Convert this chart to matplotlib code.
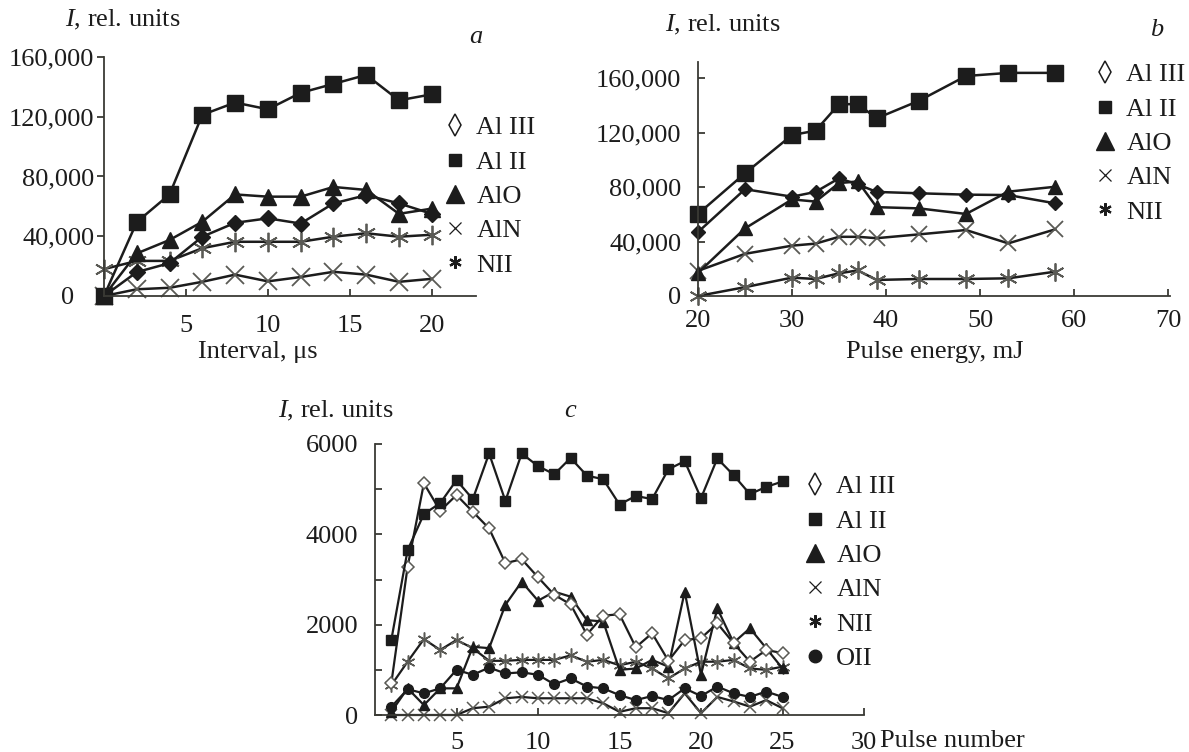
import matplotlib
matplotlib.use("Agg")
import matplotlib.pyplot as plt
from matplotlib.lines import Line2D

plt.rcParams['font.family'] = ['Liberation Serif', 'DejaVu Serif']
plt.rcParams['mathtext.fontset'] = 'custom'
plt.rcParams['mathtext.rm'] = 'Liberation Serif'
plt.rcParams['mathtext.it'] = 'Liberation Serif:italic'

# ---- panel a : interval between pulses
interval = [0, 2, 4, 6, 8, 10, 12, 14, 16, 18, 20]
a_al3 = [0, 16000, 22000, 39700, 49000, 52000, 48500, 62000, 67500, 62000, 55000]
a_al2 = [0, 49500, 68000, 121300, 129500, 125000, 136000, 142000, 148000, 131000, 135000]
a_alo = [0, 28500, 37500, 49700, 68000, 66500, 66500, 73000, 71000, 55000, 58500]
a_aln = [0, 4500, 5500, 9500, 14300, 9800, 12700, 16200, 14300, 9500, 11500]
a_nii = [18000, 23500, 23500, 32000, 36300, 36300, 36300, 39700, 42000, 39700, 41000]

# ---- panel b : pulse energy
energy = [20, 25, 30, 32.5, 35, 37, 39, 43.5, 48.5, 53, 58]
b_al3 = [47000, 78500, 73000, 76500, 86500, 82000, 76500, 75500, 74500, 74200, 68100]
b_al2 = [60300, 90200, 118300, 121500, 141000, 141000, 130600, 143500, 161700, 164000, 164000]
b_alo = [17000, 49700, 71000, 69400, 83000, 84200, 65300, 64400, 60300, 76700, 80300]
b_aln = [18500, 31000, 37000, 38500, 43500, 43500, 42500, 45300, 48500, 38700, 49000]
b_nii = [0, 6500, 13500, 12500, 16700, 18800, 11800, 12500, 12500, 13000, 17900]

# ---- panel c : pulse number
pulse = list(range(1, 26))
c_al3 = [700, 3280, 5130, 4520, 4870, 4500, 4130, 3360, 3450, 3050, 2660, 2450, 1780, 2200, 2230,
         1500, 1810, 1200, 1660, 1700, 2030, 1590, 1180, 1440, 1370]
c_al2 = [1660, 3650, 4450, 4690, 5200, 4780, 5790, 4740, 5790, 5510, 5330, 5690, 5300, 5220, 4660,
         4850, 4780, 5440, 5620, 4800, 5680, 5310, 4890, 5050, 5170]
c_alo = [70, 590, 220, 590, 590, 1510, 1480, 2440, 2950, 2530, 2730, 2620, 2100, 2070, 1000,
         1030, 1220, 1070, 2730, 890, 2360, 1600, 1920, 1480, 1030]
c_aln = [0, 0, 0, 0, 0, 150, 185, 370, 400, 370, 370, 370, 370, 260, 70,
         150, 150, 40, 480, 40, 400, 300, 185, 330, 150]
c_nii = [660, 1180, 1680, 1440, 1660, 1480, 1200, 1200, 1220, 1220, 1220, 1320, 1180, 1220, 1100,
         1180, 1030, 810, 1030, 1180, 1180, 1220, 1030, 1000, 1070]
c_oii = [180, 570, 480, 590, 1000, 890, 1050, 920, 945, 890, 680, 810, 630, 590, 440,
         330, 420, 330, 590, 420, 630, 480, 400, 520, 400]

W, H = 1189, 752
ink = '#1c1c1c'
grey = '#5a5a55'
FS = 19

def box(l, t, r, b):
    return [l / W, 1 - b / H, (r - l) / W, (b - t) / H]

def fx(x):
    return x / W

def fy(y):
    return 1 - y / H

fig = plt.figure(figsize=(W / 100, H / 100), dpi=100)

def style(ax):
    for s in ['top', 'right']:
        ax.spines[s].set_visible(False)
    for s in ['left', 'bottom']:
        ax.spines[s].set_color('#3a3a35')
        ax.spines[s].set_linewidth(1.3)
    ax.tick_params(colors='#3a3a35', labelcolor=ink, labelsize=FS, width=1.3, length=5)

# ---------------- panel a
ax = fig.add_axes(box(104, 57, 476, 296))
style(ax)
lw = 1.8
ax.plot(interval, a_aln, color=ink, lw=lw, marker='x', ms=13, mec=grey, mew=1.3, clip_on=False)
ax.plot(interval, a_nii, color=ink, lw=lw, marker=(6, 2, 0), ms=14, mec=grey, mew=1.3, clip_on=False)
ax.plot(interval, a_al3, color=ink, lw=lw, marker='D', ms=8, mfc=ink, mec=ink, clip_on=False)
ax.plot(interval, a_alo, color=ink, lw=lw, marker='^', ms=11, mfc=ink, mec=ink, clip_on=False)
ax.plot(interval, a_al2, color=ink, lw=lw, marker='s', ms=12, mfc=ink, mec=ink, clip_on=False)
ax.set_xlim(0, 22.7)
ax.set_ylim(0, 160000)
ax.set_xticks([5, 10, 15, 20])
ax.set_yticks([0, 40000, 80000, 120000, 160000])
ax.set_yticklabels(['0   ', '40,000', '80,000', '120,000', '160,000'])
ax.tick_params(axis='x', direction='in', pad=14)
ax.tick_params(axis='y', direction='out', pad=2)

# ---------------- panel b
bx = fig.add_axes(box(698, 62, 1170, 296))
style(bx)
bx.plot(energy, b_nii, color=ink, lw=lw, marker=(6, 2, 0), ms=13, mec=grey, mew=1.3, clip_on=False)
bx.plot(energy, b_aln, color=ink, lw=lw, marker='x', ms=12, mec=grey, mew=1.3, clip_on=False)
bx.plot(energy, b_alo, color=ink, lw=lw, marker='^', ms=10, mfc=ink, mec=ink, clip_on=False)
bx.plot(energy, b_al3, color=ink, lw=lw, marker='D', ms=7, mfc=ink, mec=ink, clip_on=False)
bx.plot(energy, b_al2, color=ink, lw=lw, marker='s', ms=11, mfc=ink, mec=ink, clip_on=False)
bx.set_xlim(20, 70.2)
bx.set_ylim(0, 172000)
bx.set_xticks([20, 30, 40, 50, 60, 70])
bx.set_yticks([0, 40000, 80000, 120000, 160000])
bx.set_yticklabels(['0', '40,000', '80,000', '120,000', '160,000'])
bx.tick_params(axis='x', direction='in', pad=10)
bx.tick_params(axis='y', direction='in', pad=12)

# ---------------- panel c
cx = fig.add_axes(box(375, 444, 864, 715))
style(cx)
lc = 1.6
cx.plot(pulse, c_aln, color=ink, lw=lc, marker='x', ms=9, mec=grey, mew=1.1, clip_on=False)
cx.plot(pulse, c_nii, color=ink, lw=lc, marker=(6, 2, 0), ms=10, mec=grey, mew=1.1, clip_on=False)
cx.plot(pulse, c_oii, color=ink, lw=lc, marker='o', ms=7, mfc=ink, mec=ink, clip_on=False)
cx.plot(pulse, c_alo, color=ink, lw=lc, marker='^', ms=7, mfc=ink, mec=ink, clip_on=False)
cx.plot(pulse, c_al3, color=ink, lw=lc, marker='D', ms=6, mfc='white', mec=grey, mew=1.1, clip_on=False)
cx.plot(pulse, c_al2, color=ink, lw=lc, marker='s', ms=7, mfc=ink, mec=ink, clip_on=False)
cx.set_xlim(0, 30)
cx.set_ylim(0, 6000)
cx.set_xticks([5, 10, 15, 20, 25, 30])
cx.set_yticks([0, 1000, 2000, 3000, 4000, 5000, 6000])
cx.set_yticklabels(['0', '', '2000', '', '4000', '', '6000'])
cx.tick_params(axis='x', direction='in', pad=12)
cx.tick_params(axis='y', direction='in', pad=12)

# ---------------- legends
names = ['Al III', 'Al II', 'AlO', 'AlN', 'NII', 'OII']
handles = [
    Line2D([], [], ls='none', marker='d', ms=11, mfc='white', mec=ink, mew=1.1),
    Line2D([], [], ls='none', marker='s', ms=9, mfc=ink, mec=ink),
    Line2D([], [], ls='none', marker='^', ms=13, mfc=ink, mec=ink),
    Line2D([], [], ls='none', marker='x', ms=8, mec=ink, mew=0.9),
    Line2D([], [], ls='none', marker=(6, 2, 0), ms=9, mec=ink, mew=1.6),
    Line2D([], [], ls='none', marker='o', ms=9, mfc=ink, mec=ink),
]

def legend(n, x, y):
    leg = fig.legend(handles[:n], names[:n], loc='upper left',
                     bbox_to_anchor=(fx(x), fy(y)), frameon=False, fontsize=FS,
                     handlelength=1.0, handletextpad=0.3, labelspacing=0.41,
                     borderpad=0, borderaxespad=0)
    for t in leg.get_texts():
        t.set_color(ink)

legend(5, 442, 116)
legend(5, 1092, 63)
legend(6, 802, 475)

# ---------------- texts
for x, y in [(65, 20), (665, 25), (278, 411)]:
    fig.text(fx(x), fy(y), '$I$, rel. units', fontsize=FS, color=ink, ha='left', va='center')
for s, x, y in [('a', 476, 37), ('b', 1157, 30), ('c', 570, 411)]:
    fig.text(fx(x), fy(y), s, fontsize=FS, color=ink, style='italic', ha='center', va='center')
fig.text(fx(258), fy(352), 'Interval, \u03bcs', fontsize=FS, color=ink, ha='center', va='center')
fig.text(fx(935), fy(352), 'Pulse energy, mJ', fontsize=FS, color=ink, ha='center', va='center')
fig.text(fx(880), fy(741), 'Pulse number', fontsize=FS, color=ink, ha='left', va='center')

fig.savefig('out.png', dpi=100, facecolor='white')
